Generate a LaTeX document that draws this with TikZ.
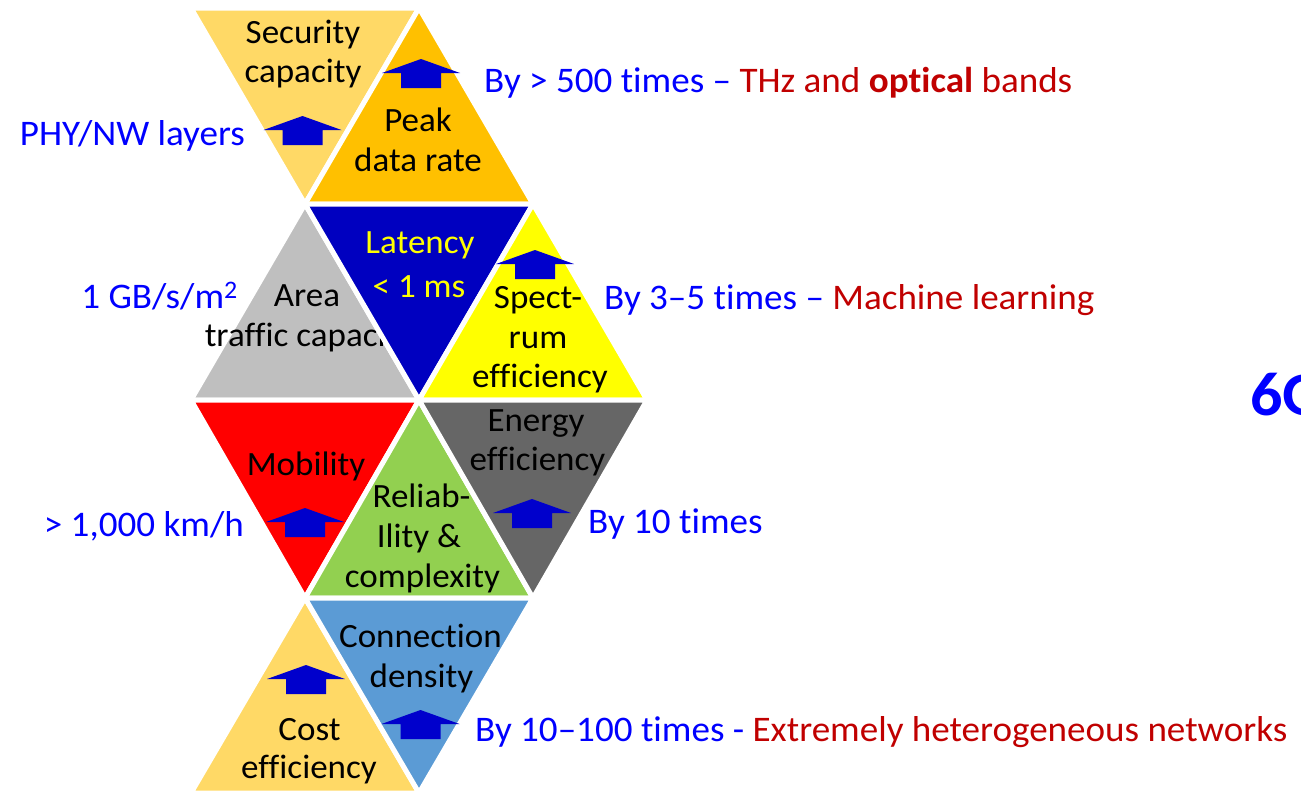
\documentclass[tikz,border=0pt]{standalone}
\usepackage{fontspec}
\setmainfont{Carlito}[Ligatures={NoCommon}, FakeStretch=1.03]
\definecolor{goldlight}{HTML}{FFD966}
\definecolor{gold}{HTML}{FFC000}
\definecolor{silver}{HTML}{BFBFBF}
\definecolor{deepblue}{HTML}{0000C0}
\definecolor{brightyellow}{HTML}{FFFF00}
\definecolor{brightred}{HTML}{FF0000}
\definecolor{leafgreen}{HTML}{92D050}
\definecolor{slate}{HTML}{666666}
\definecolor{skyblue}{HTML}{5B9BD5}
\definecolor{noteblue}{HTML}{0000FF}
\definecolor{notered}{HTML}{C00000}
\definecolor{arrowblue}{HTML}{0000CC}
\tikzset{
  tri/.style={line width=5pt, draw=white, line join=round},
  lbl/.style={inner sep=0pt, anchor=base, font=\fontsize{34}{40}\selectfont},
  note/.style={inner sep=0pt, font=\fontsize{36}{43}\selectfont, text=noteblue},
  uparrow/.pic={\fill[arrowblue] (-39,0) -- (0,-14) -- (39,0) -- (20,0) -- (20,15) -- (-20,15) -- (-20,0) -- cycle;}
}
\begin{document}
\begin{tikzpicture}[x=1pt, y=-1pt]
\useasboundingbox (0,0) rectangle (1301,790);
\clip (0,0) rectangle (1301,790);

% ---- row 1 ----
\fill[goldlight, tri] (191,8) -- (419,8) -- (305,204) -- cycle;
\node[lbl] (sec1) at (303,43) {Security};
\node[lbl] (sec2) at (303,82) {capacity};
\fill[gold, tri] (419,8) -- (533,204) -- (305,204) -- cycle;
\node[lbl] (peak1) at (418,131.5) {Peak};
\node[lbl] (peak2) at (418,171.5) {data rate};

% ---- row 2 ----
\fill[silver, tri] (305,204) -- (419,400) -- (191,400) -- cycle;
\node[lbl] (area1) at (307,306.5) {Area};
\node[lbl] (area2) at (309,346.5) {traffic capacity};
\fill[deepblue, tri] (305,204) -- (533,204) -- (419,400) -- cycle;
\node[lbl, text=brightyellow] (lat1) at (420,253) {Latency};
\node[lbl, text=brightyellow] (lat2) at (419,297) {< 1 ms};
\fill[brightyellow, tri] (533,204) -- (647,400) -- (419,400) -- cycle;
\node[lbl] (spec1) at (538,308) {Spect-};
\node[lbl] (spec2) at (538,348) {rum};
\node[lbl] (spec3) at (540,387) {efficiency};

% ---- row 3 ----
\fill[brightred, tri] (191,400) -- (419,400) -- (305,598) -- cycle;
\node[lbl] (mob) at (306,475) {Mobility};
\fill[leafgreen, tri] (419,400) -- (533,598) -- (305,598) -- cycle;
\node[lbl] (rel1) at (421.5,507.5) {Reliab-};
\node[lbl] (rel2) at (419,547) {Ility \&};
\node[lbl] (rel3) at (422.5,587) {complexity};
\fill[slate, tri] (419,400) -- (647,400) -- (533,598) -- cycle;
\node[lbl] (en1) at (536,431.5) {Energy};
\node[lbl] (en2) at (537.5,470.5) {efficiency};

% ---- row 4 ----
\fill[goldlight, tri] (305,598) -- (419,793) -- (191,793) -- cycle;
\node[lbl] (cost1) at (309.5,740) {Cost};
\node[lbl] (cost2) at (309,778.5) {efficiency};
\fill[skyblue, tri] (305,598) -- (533,598) -- (419,793) -- cycle;
\node[lbl] (con1) at (420.5,647.5) {Connection};
\node[lbl] (con2) at (421.5,687.5) {density};

% ---- improvement arrows ----
\pic (apeak) at (421,73) {uparrow};
\pic (asec)  at (302.5,130) {uparrow};
\pic (aspec) at (535,264) {uparrow};
\pic (amob)  at (305,522) {uparrow};
\pic (aen)   at (532,513) {uparrow};
\pic (acost) at (306,679) {uparrow};
\pic (acon)  at (420.5,724) {uparrow};

% ---- side notes ----
\node[note, anchor=base west] (npeak) at (484,92)
  {By > 500 times – {\color{notered}THz and \textbf{optical} bands}};
\node[note, anchor=base east] (nsec) at (245,145) {PHY/NW layers};
\node[note, anchor=base east] (narea) at (238,308) {1 GB/s/m\textsuperscript{2}};
\node[note, anchor=base west] (nspec) at (604,309)
  {By 3–5 times – {\color{notered}Machine learning}};
\node[note, anchor=base east] (nmob) at (244,536) {> 1,000 km/h};
\node[note, anchor=base west] (nen) at (588,533) {By 10 times};
\node[note, anchor=base west] (ncon) at (475,741)
  {By 10–100 times - {\color{notered}Extremely heterogeneous networks}};

% ---- title, running off the right edge ----
\node[inner sep=0pt, anchor=base west, text=noteblue,
      font=\fontsize{62}{64}\selectfont\bfseries] (title) at (1250,415) {6G};
\end{tikzpicture}
\end{document}
